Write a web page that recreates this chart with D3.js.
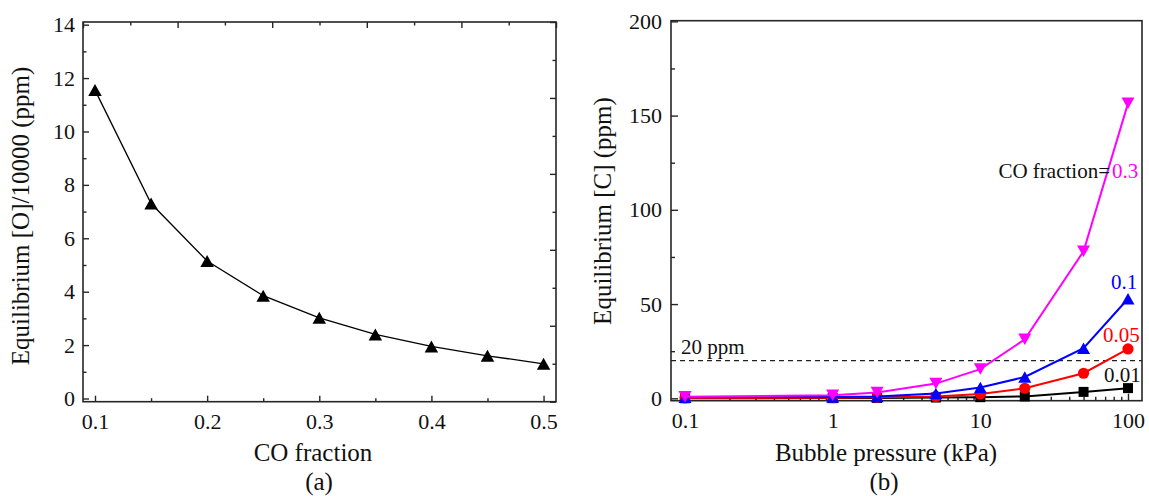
<!DOCTYPE html>
<html>
<head>
<meta charset="utf-8">
<script src="https://cdn.jsdelivr.net/npm/d3@7"></script>
<style>
  body { margin: 0; background: #fff; }
  svg { display: block; }
  svg text { font-family: "Liberation Serif", "Times New Roman", serif !important; fill: #111; }
</style>
</head>
<body>
<svg id="chart" width="1149" height="496" font-family="Liberation Serif"></svg>
<script>
// ---- Panel (a): equilibrium oxygen vs CO fraction ----
const coFraction = [0.1, 0.15, 0.2, 0.25, 0.3, 0.35, 0.4, 0.45, 0.5];
const oxygenEq   = [11.55, 7.3, 5.15, 3.85, 3.02, 2.4, 1.95, 1.6, 1.3];
const aXTicks = [0.1, 0.2, 0.3, 0.4, 0.5];
const aYTicks = [0, 2, 4, 6, 8, 10, 12, 14];

// ---- Panel (b): equilibrium carbon vs bubble pressure ----
const pressure   = [0.1, 1, 2, 5, 10, 20, 50, 100];
const carbon001  = [0.05, 0.1, 0.2, 0.4, 0.6, 1.0, 3.4, 5.4];
const carbon005  = [0.2, 0.3, 0.5, 1.0, 2.3, 5.3, 13.3, 26.2];
const carbon01   = [0.6, 0.7, 1.0, 2.6, 5.7, 11.3, 26.6, 52.8];
const carbon03   = [0.8, 1.6, 3.1, 7.8, 15.5, 31.3, 78, 156.5];
const seriesNames = ["0.01", "0.05", "0.1", "0.3"];
const bXTicks = [0.1, 1, 10, 100];
const bYTicks = [0, 50, 100, 150, 200];
const limitPpm = 20;

const svg = d3.select("#chart");
const frameColor = "#262626";
const SERIF = "Liberation Serif, Times New Roman, serif";

function styleAxis(g) {
  g.attr("font-family", SERIF);
  g.select(".domain").remove();
  g.selectAll(".tick line").attr("stroke", frameColor).attr("stroke-width", 1.4);
  g.selectAll(".tick text").attr("font-size", 22).attr("fill", "#111")
    .style("font-family", SERIF);
}

function frame(x0, x1, y0, y1) {
  svg.append("rect")
    .attr("x", x0).attr("y", y0)
    .attr("width", x1 - x0).attr("height", y1 - y0)
    .attr("fill", "none").attr("stroke", frameColor).attr("stroke-width", 1.6);
}

function upTriangle(w, h) {
  return `M0,${-h / 2}L${w / 2},${h / 2}L${-w / 2},${h / 2}Z`;
}
function downTriangle(w, h) {
  return `M0,${h / 2}L${w / 2},${-h / 2}L${-w / 2},${-h / 2}Z`;
}

function label(x, y, txt, size, color, anchor) {
  return svg.append("text").attr("x", x).attr("y", y)
    .attr("text-anchor", anchor || "start")
    .attr("font-size", size)
    .style("font-family", SERIF)
    .style("fill", color || "#111")
    .text(txt);
}

// ================= Panel (a) =================
const aL = 83, aR = 556, aT = 22, aB = 401.7;
const xA = d3.scaleLinear().domain([0.0893, 0.5111]).range([aL, aR]);
const yA = d3.scaleLinear().domain([-0.12, 14.1]).range([aB, aT]);

const aMinorX = d3.range(0.1, 0.5001, 0.05).filter(v => Math.abs(v * 10 - Math.round(v * 10)) > 1e-6);
const aMinorY = d3.range(1, 14, 2);

// bottom axis
svg.append("g").attr("transform", `translate(0,${aB})`)
  .call(d3.axisBottom(xA).tickValues(aXTicks).tickFormat(d3.format(".1f")).tickSize(-6).tickPadding(12))
  .call(styleAxis);
svg.append("g").attr("transform", `translate(0,${aB})`)
  .call(d3.axisBottom(xA).tickValues(aMinorX).tickFormat("").tickSize(-3.5))
  .call(styleAxis);
// left axis
svg.append("g").attr("transform", `translate(${aL},0)`)
  .call(d3.axisLeft(yA).tickValues(aYTicks).tickFormat(d3.format("d")).tickSize(-6).tickPadding(8))
  .call(styleAxis);
svg.append("g").attr("transform", `translate(${aL},0)`)
  .call(d3.axisLeft(yA).tickValues(aMinorY).tickFormat("").tickSize(-3.5))
  .call(styleAxis);

// top and right axes run on their own 0–10 scales
const aTop = d3.scaleLinear().domain([0, 10]).range([aL, aR]);
const aRight = d3.scaleLinear().domain([0, 10]).range([aB, aT]);
const evenTicks = d3.range(0, 11, 2), oddTicks = d3.range(1, 10, 2);
svg.append("g").attr("transform", `translate(0,${aT})`)
  .call(d3.axisTop(aTop).tickValues(evenTicks).tickFormat("").tickSize(-6)).call(styleAxis);
svg.append("g").attr("transform", `translate(0,${aT})`)
  .call(d3.axisTop(aTop).tickValues(oddTicks).tickFormat("").tickSize(-3.5)).call(styleAxis);
svg.append("g").attr("transform", `translate(${aR},0)`)
  .call(d3.axisRight(aRight).tickValues(evenTicks).tickFormat("").tickSize(-6)).call(styleAxis);
svg.append("g").attr("transform", `translate(${aR},0)`)
  .call(d3.axisRight(aRight).tickValues(oddTicks).tickFormat("").tickSize(-3.5)).call(styleAxis);

frame(aL, aR, aT, aB);

const aPts = coFraction.map((x, i) => ({ x, y: oxygenEq[i] }));
svg.append("path").datum(aPts)
  .attr("fill", "none").attr("stroke", "#000").attr("stroke-width", 1.3)
  .attr("d", d3.line().x(d => xA(d.x)).y(d => yA(d.y)));
svg.append("g").selectAll("path").data(aPts).join("path")
  .attr("transform", d => `translate(${xA(d.x)},${yA(d.y)})`)
  .attr("d", upTriangle(13.5, 12)).attr("fill", "#000");

label(313, 461, "CO fraction", 25, "#111", "middle");
svg.append("text").attr("transform", `translate(29,216) rotate(-90)`)
  .attr("text-anchor", "middle").attr("font-size", 25).style("font-family", SERIF)
  .text("Equilibrium [O]/10000 (ppm)");
label(319, 490, "(a)", 25, "#111", "middle");

// ================= Panel (b) =================
const bL = 671, bR = 1142, bT = 20.7, bB = 400.7;
const xB = d3.scaleLog().domain([0.0804, 124.4]).range([bL, bR]);
const yB = d3.scaleLinear().domain([-1.27, 200.35]).range([bB, bT]);

const bMinorX = [];
[0.1, 1, 10].forEach(dec => { for (let k = 2; k <= 9; k++) bMinorX.push(dec * k); });
const bMinorY = [25, 75, 125, 175];

svg.append("g").attr("transform", `translate(0,${bB})`)
  .call(d3.axisBottom(xB).tickValues(bXTicks).tickFormat(d => String(d)).tickSize(-7).tickPadding(12))
  .call(styleAxis);
svg.append("g").attr("transform", `translate(0,${bB})`)
  .call(d3.axisBottom(xB).tickValues(bMinorX).tickFormat("").tickSize(-4))
  .call(styleAxis);
svg.append("g").attr("transform", `translate(${bL},0)`)
  .call(d3.axisLeft(yB).tickValues(bYTicks).tickFormat(d3.format("d")).tickSize(-7).tickPadding(9))
  .call(styleAxis);
svg.append("g").attr("transform", `translate(${bL},0)`)
  .call(d3.axisLeft(yB).tickValues(bMinorY).tickFormat("").tickSize(-4))
  .call(styleAxis);

frame(bL, bR, bT, bB);

// 20 ppm reference line
svg.append("line")
  .attr("x1", bL).attr("x2", bR).attr("y1", yB(limitPpm)).attr("y2", yB(limitPpm))
  .attr("stroke", "#222").attr("stroke-width", 1.1).attr("stroke-dasharray", "5,4");
label(bL + 10, yB(limitPpm) - 7, `${limitPpm} ppm`, 21);

const bSeries = [
  { name: seriesNames[0], values: carbon001, color: "#000000", shape: "square" },
  { name: seriesNames[1], values: carbon005, color: "#ff0000", shape: "circle" },
  { name: seriesNames[2], values: carbon01,  color: "#0000ff", shape: "up" },
  { name: seriesNames[3], values: carbon03,  color: "#ff00ff", shape: "down" }
];

const bLine = d3.line().x(d => xB(d.x)).y(d => yB(d.y));
bSeries.forEach(s => {
  const pts = pressure.map((x, i) => ({ x, y: s.values[i] }));
  const g = svg.append("g");
  g.append("path").datum(pts).attr("fill", "none")
    .attr("stroke", s.color).attr("stroke-width", 2).attr("d", bLine);
  const m = g.selectAll(".m").data(pts).join("path")
    .attr("transform", d => `translate(${xB(d.x)},${yB(d.y)})`)
    .attr("fill", s.color);
  if (s.shape === "square") m.attr("d", "M-5,-5H5V5H-5Z");
  if (s.shape === "circle") m.attr("d", d3.symbol(d3.symbolCircle, Math.PI * 5.6 * 5.6)());
  if (s.shape === "up") m.attr("d", upTriangle(13, 11.5));
  if (s.shape === "down") m.attr("d", downTriangle(13, 11.5));
});

// series labels
label(1110, 178, "CO fraction=", 21, "#111", "end");
label(1112, 178, seriesNames[3], 21, "#ff00ff");
label(1111, 289, seriesNames[2], 21, "#0000ff");
label(1103, 341.5, seriesNames[1], 21, "#ff0000");
label(1104, 382, seriesNames[0], 21, "#111");

label(886, 461, "Bubble pressure (kPa)", 25, "#111", "middle");
svg.append("text").attr("transform", `translate(611,211) rotate(-90)`)
  .attr("text-anchor", "middle").attr("font-size", 25).style("font-family", SERIF)
  .text("Equilibrium [C] (ppm)");
label(884, 490, "(b)", 25, "#111", "middle");
</script>
</body>
</html>
